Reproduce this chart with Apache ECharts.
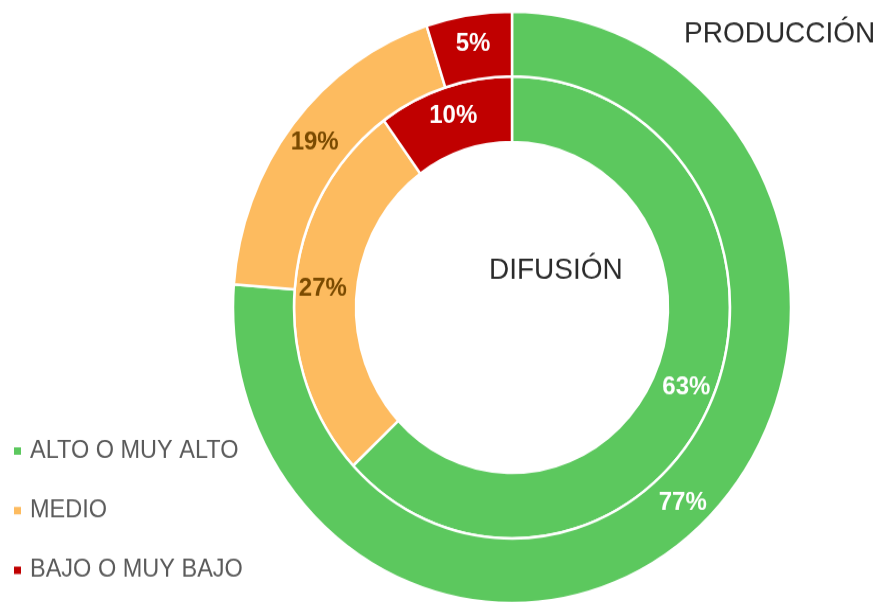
<!DOCTYPE html>
<html lang="es">
  <head>
    <meta charset="UTF-8" />
    <title>Difusión y producción</title>
    <script src="https://cdn.jsdelivr.net/npm/echarts@6/dist/echarts.min.js"></script>
    <style>
      body { margin: 0; background: #fff; }
      #wrap { width: 881px; height: 602px; overflow: hidden; position: relative; }
      /* el original está un poco estirado en vertical */
      #main { width: 881px; height: 568px; transform: scaleY(1.06); transform-origin: 0 0; }
    </style>
  </head>

  <body>
    <div id="wrap"><div id="main"></div></div>

    <script>
      // niveles
      var categories = ["ALTO O MUY ALTO", "MEDIO", "BAJO O MUY BAJO"];
      // anillo interior
      var difusion = [63, 27, 10];
      // anillo exterior
      var produccion = [77, 19, 5];

      var colors = ["#5cc85e", "#fdbb5f", "#c00000"];
      var labelColors = ["#ffffff", "#7a4a00", "#ffffff"];

      function toData(values) {
        return values.map(function (v, i) {
          return {
            name: categories[i],
            value: v,
            label: { color: labelColors[i] },
          };
        });
      }

      var ringLabel = {
        show: true,
        position: "inside",
        formatter: "{c}%",
        fontFamily: "Liberation Sans",
        fontWeight: "bold",
        fontSize: 24,
      };

      var myChart = echarts.init(document.getElementById("main"));
      var option = {
        animation: false,
        color: colors,
        legend: {
          orient: "vertical",
          left: 12,
          top: 413.5,
          padding: 0,
          itemWidth: 9,
          itemHeight: 9,
          itemGap: 32.2,
          icon: "rect",
          selectedMode: false,
          data: categories,
          textStyle: {
            fontFamily: "Liberation Sans",
            fontSize: 23.5,
            lineHeight: 22,
            color: "#5a5a5a",
            padding: [0, 0, 0, 3],
          },
        },
        graphic: [
          {
            type: "text",
            left: 684,
            top: 18,
            style: {
              text: "PRODUCCIÓN",
              fontFamily: "Liberation Sans",
              fontSize: 28,
              fill: "#2a2a2a",
            },
          },
          {
            type: "text",
            left: 489,
            top: 241,
            style: {
              text: "DIFUSIÓN",
              fontFamily: "Liberation Sans",
              fontSize: 28,
              fill: "#2a2a2a",
            },
          },
        ],
        series: [
          {
            name: "Difusión",
            type: "pie",
            center: [512, 290],
            radius: [156, 218],
            silent: true,
            labelLine: { show: false },
            label: ringLabel,
            itemStyle: { borderColor: "#fff", borderWidth: 2.5 },
            data: toData(difusion),
          },
          {
            name: "Producción",
            type: "pie",
            center: [512, 290],
            radius: [218, 279],
            silent: true,
            labelLine: { show: false },
            label: ringLabel,
            itemStyle: { borderColor: "#fff", borderWidth: 2.5 },
            data: toData(produccion),
          },
        ],
      };
      myChart.setOption(option);
    </script>
  </body>
</html>
